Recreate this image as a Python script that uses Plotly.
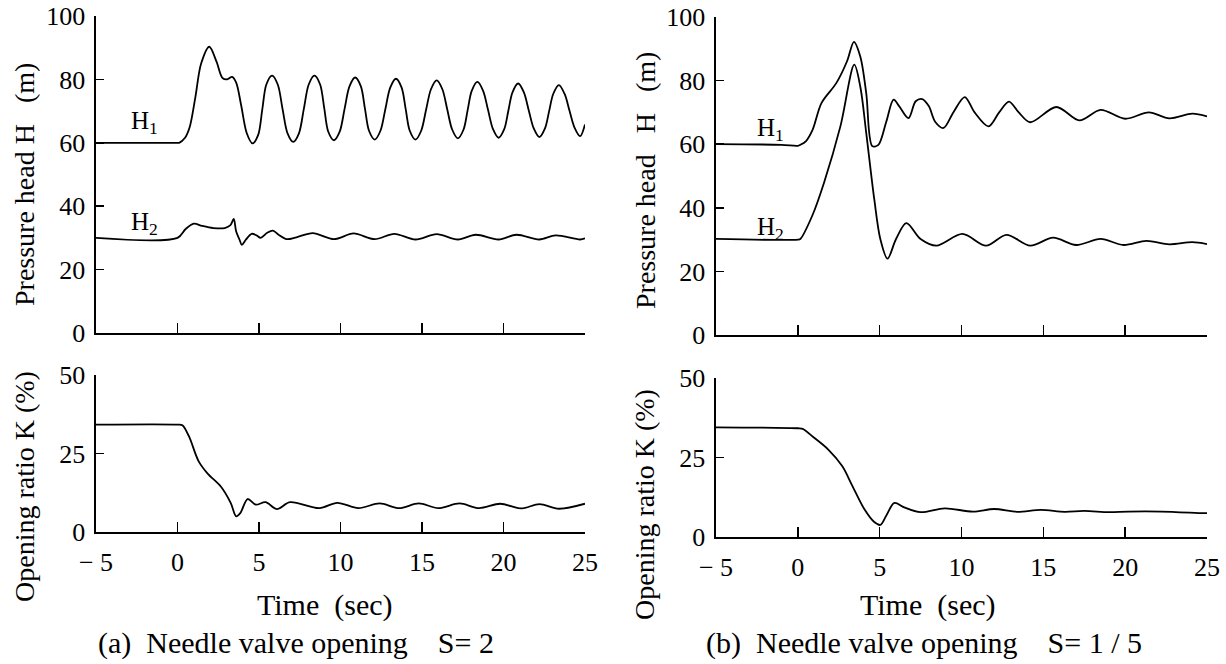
import plotly.graph_objects as go

# ---------------- data ----------------
# (a) Needle valve opening S = 2
a_h1_t = [-5, 0, 0.1, 0.45, 0.75, 1.1, 1.45, 1.95, 2.4, 2.75, 3.05, 3.35, 3.6, 3.9, 4.25, 4.6, 4.95, 5.2,
          5.45, 5.8, 6.15, 6.45, 6.75, 7.1, 7.45, 7.75, 8.05, 8.4, 8.75, 9.0, 9.25, 9.6, 9.95, 10.25, 10.55,
          10.9, 11.25, 11.5, 11.75, 12.1, 12.45, 12.75, 13.05, 13.4, 13.75, 14.0, 14.25, 14.6, 14.95, 15.25,
          15.55, 15.9, 16.25, 16.55, 16.85, 17.2, 17.55, 17.8, 18.05, 18.4, 18.75, 19.05, 19.35, 19.7, 20.05,
          20.3, 20.55, 20.9, 21.25, 21.55, 21.85, 22.2, 22.55, 22.8, 23.05, 23.4, 23.75, 24.05, 24.35, 24.7, 25.0]
a_h1_v = [60, 60, 60, 61.5, 65, 74.5, 85, 90.3, 85.5, 80.5, 80, 80.8, 79, 72, 63, 59.8, 62.5, 70.5,
          78.4, 81.2, 78.4, 70.5, 63, 60.3, 63, 70.7, 78.4, 81.2, 78.4, 71, 63.5, 60.8, 63.5, 70.7, 77.8,
          80.6, 77.8, 70.8, 63.8, 61, 63.8, 70.6, 77.4, 80.2, 77.4, 70.6, 63.8, 61, 63.8, 70.4,
          76.9, 79.7, 76.9, 70.5, 64.2, 61.4, 64.2, 70.3, 76.4, 79.2, 76.4, 70.4, 64.4, 61.6, 64.4,
          70.2, 75.9, 78.7, 75.9, 70.2, 64.6, 61.8, 64.6, 70, 75.4, 78.2, 75.4, 70.1, 64.9, 62.1, 65.8]

a_h2_t = [-5, 0, 0.5, 1.0, 1.5, 2.2, 2.9, 3.25, 3.45, 3.6, 3.8, 3.95, 4.2, 4.55, 4.85, 5.1, 5.5, 5.85, 6.2,
          6.7, 7.3, 8.3, 9.6, 10.8, 12.1, 13.3, 14.6, 15.9, 17.2, 18.3, 19.7, 20.8, 22.2, 23.2, 24.7, 25]
a_h2_v = [30, 30, 32.8, 34.5, 33.8, 33.1, 33.1, 34, 36, 32, 29.5, 27.8, 29.5, 31.3, 30.8, 30, 31.6, 32.3, 31,
          29.6, 30.2, 31.5, 29.6, 31.4, 29.6, 31.3, 29.5, 31.2, 29.5, 31, 29.5, 31, 29.5, 30.8, 29.5, 29.9]

a_k_t = [-5, 0, 0.3, 0.7, 1.3, 1.85, 2.67, 3.27, 3.6, 3.85, 4.3, 4.8, 5.4, 6.1, 6.9, 8.7, 9.8, 11.1, 12.4,
         13.6, 14.8, 16.0, 17.3, 18.5, 19.8, 21.1, 22.2, 23.4, 25]
a_k_v = [34.2, 34.2, 34, 30.5, 22.5, 18.6, 14.4, 9.2, 5.0, 6, 10.5, 8.7, 9.5, 7.3, 9.5, 7.6, 9.3, 7.6, 9.1,
         7.6, 9.1, 7.6, 9.1, 7.6, 9.0, 7.5, 8.9, 7.4, 9.0]

# (b) Needle valve opening S = 1/5
b_h1_t = [-5, -1, 0, 0.15, 0.5, 0.9, 1.45, 2.35, 3.0, 3.43, 3.82, 4.18, 4.55, 4.92, 5.4, 5.85, 6.2, 6.76,
          7.2, 7.6, 8.0, 8.4, 8.9, 9.5, 10.2, 10.8, 11.65, 12.3, 12.9, 13.5, 14.2, 15.8, 17.2, 18.5, 20.0,
          21.45, 22.7, 24.1, 25]
b_h1_v = [60, 59.8, 59.5, 59.8, 61, 64.5, 73, 79.2, 86, 92.2, 87.5, 76, 59.4, 59.8, 67, 74, 71.9, 68.2,
          73.5, 74.2, 72, 67, 65.1, 70, 74.8, 70, 65.6, 70, 73.4, 70, 66.9, 71.7, 67.5, 70.8, 68,
          70, 68.1, 69.6, 68.75]

b_h2_t = [-5, 0, 0.15, 0.88, 1.6, 2.6, 3.45, 3.82, 4.18, 4.67, 5.04, 5.48, 6.0, 6.63, 7.5, 8.47, 10.06,
          11.5, 12.75, 14.2, 15.6, 17.0, 18.5, 19.9, 21.3, 22.7, 24.1, 25]
b_h2_v = [30.2, 30, 30.2, 37.5, 47.9, 65.6, 85, 78, 63.5, 42.7, 30.2, 24, 30.2, 35.2, 30.2, 28.1, 31.8,
          28.1, 31.5, 28.1, 30.6, 28.3, 30.2, 28.3, 29.6, 28.5, 29.2, 28.6]

b_k_t = [-5, 0, 0.3, 0.9, 1.86, 2.71, 3.33, 4.06, 4.67, 5.04, 5.4, 5.9, 6.5, 7.5, 8.97, 10.7, 12.0, 13.4,
         14.85, 16.3, 17.5, 19.0, 20.2, 22.2, 24.8, 25]
b_k_v = [34.5, 34.2, 34, 31.6, 27.5, 22.3, 16.1, 8.8, 4.7, 3.8, 6.7, 10.7, 9.3, 7.8, 9.0, 8.0, 8.8, 7.9,
         8.5, 7.9, 8.2, 7.8, 8.0, 8.0, 7.5, 7.5]

x_ticks = [-5, 0, 5, 10, 15, 20, 25]
x_tick_text = ["\u2212 5", "0", "5", "10", "15", "20", "25"]
h_ticks = [0, 20, 40, 60, 80, 100]
k_ticks = [0, 25, 50]

FONT = "Liberation Serif, Times New Roman, serif"
fig = go.Figure()

def add(t, v, xa, ya):
    fig.add_trace(go.Scatter(x=t, y=v, mode="lines",
                             line=dict(color="black", width=1.8, shape="spline", smoothing=0.9),
                             xaxis=xa, yaxis=ya, showlegend=False, hoverinfo="skip"))

add(a_h1_t, a_h1_v, "x", "y")
add(a_h2_t, a_h2_v, "x", "y")
add(a_k_t, a_k_v, "x2", "y2")
add(b_h1_t, b_h1_v, "x3", "y3")
add(b_h2_t, b_h2_v, "x3", "y3")
add(b_k_t, b_k_v, "x4", "y4")

W, H = 1226, 664
def px_x(a, b):
    return [a / W, b / W]
def px_y(top, bottom):
    return [(H - bottom) / H, (H - top) / H]

tickfont = dict(family=FONT, size=26, color="black")
xcommon = dict(range=[-5, 25], tickvals=x_ticks, ticktext=x_tick_text, showline=True, linecolor="black",
               linewidth=1.6, ticks="inside", ticklen=10, tickcolor="black", tickwidth=1.6,
               showgrid=False, zeroline=False, tickfont=tickfont, automargin=False)
ycommon = dict(showline=True, linecolor="black", linewidth=1.6, ticks="inside", ticklen=8,
               tickcolor="black", tickwidth=1.6, showgrid=False, zeroline=False, tickfont=tickfont,
               automargin=False, ticklabelstandoff=4)

fig.update_layout(
    template="none",
    width=W, height=H, margin=dict(l=0, r=0, t=0, b=0, autoexpand=False),
    plot_bgcolor="white", paper_bgcolor="white",
    xaxis=dict(domain=px_x(96, 585), anchor="y", showticklabels=False, **xcommon),
    yaxis=dict(domain=px_y(16, 333), anchor="x", range=[0, 100], tickvals=h_ticks, **ycommon),
    xaxis2=dict(domain=px_x(96, 585), anchor="y2", showticklabels=True, ticklabelstandoff=6, **xcommon),
    yaxis2=dict(domain=px_y(375, 532), anchor="x2", range=[0, 50], tickvals=k_ticks, **ycommon),
    xaxis3=dict(domain=px_x(716, 1207), anchor="y3", showticklabels=False, **xcommon),
    yaxis3=dict(domain=px_y(17, 335), anchor="x3", range=[0, 100], tickvals=h_ticks, **ycommon),
    xaxis4=dict(domain=px_x(716, 1207), anchor="y4", showticklabels=True, ticklabelstandoff=6, **xcommon),
    yaxis4=dict(domain=px_y(378, 537), anchor="x4", range=[0, 50], tickvals=k_ticks, **ycommon),
)

nb = "\u00a0"
def ann_paper(text, xp, yp, size, angle=0):
    fig.add_annotation(text=text, x=xp / W, y=(H - yp) / H, xref="paper", yref="paper",
                       showarrow=False, textangle=angle,
                       font=dict(family=FONT, size=size, color="black"),
                       xanchor="center", yanchor="middle")

ann_paper("Pressure head H" + nb * 3 + "(m)", 24, 185, 28, -90)
ann_paper("Opening ratio K (%)", 24, 487, 28, -90)
ann_paper("Pressure head" + nb * 3 + "H" + nb * 3 + "(m)", 646, 181, 28, -90)
ann_paper("Opening ratio K (%)", 644, 505, 28, -90)
ann_paper("Time" + nb * 2 + "(sec)", 325, 605, 30)
ann_paper("Time" + nb * 2 + "(sec)", 928, 605, 30)
ann_paper("(a)" + nb * 2 + "Needle valve opening" + nb * 4 + "S= 2", 296, 643, 30)
ann_paper("(b)" + nb * 2 + "Needle valve opening" + nb * 4 + "S= 1 / 5", 924, 643, 30)

hfont = dict(family=FONT, size=25, color="black")
def ann_data(text, x, y, xa, ya):
    fig.add_annotation(text=text, x=x, y=y, xref=xa, yref=ya, showarrow=False, font=hfont,
                       xanchor="center", yanchor="middle")

ann_data("H<sub>1</sub>", -2.0, 66.5, "x", "y")
ann_data("H<sub>2</sub>", -2.0, 34.5, "x", "y")
ann_data("H<sub>1</sub>", -1.7, 64.5, "x3", "y3")
ann_data("H<sub>2</sub>", -1.7, 33.6, "x3", "y3")

fig.write_html("out.html", config={"displayModeBar": False, "staticPlot": True},
               post_script="document.body.style.margin='0';document.body.style.overflow='hidden';")
